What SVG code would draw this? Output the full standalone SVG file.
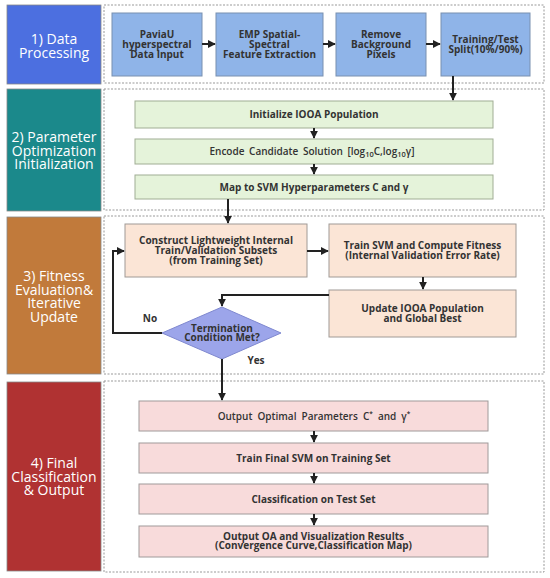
<svg xmlns="http://www.w3.org/2000/svg" width="550" height="578" viewBox="0 0 550 578">
<defs>
<marker id="ah" viewBox="0 0 10 10" refX="9" refY="5" markerWidth="4" markerHeight="4" orient="auto" markerUnits="strokeWidth">
<path d="M0,0 L10,5 L0,10 z" fill="#222"/>
</marker>
<style>
.sec{stroke:#888;stroke-width:0.8}
.lbl{font-family:"Open Sans","Noto Sans","DejaVu Sans",sans-serif;font-size:14px;fill:#fff;text-anchor:middle}
.dash{fill:#fff;stroke:#999;stroke-width:1;stroke-dasharray:2,1.5}
.bt{font-family:"Open Sans","Noto Sans","DejaVu Sans",sans-serif;font-size:10px;font-weight:bold;fill:#333;text-anchor:middle}
.st{font-weight:600}
.blue{fill:#8fb4e8;stroke:#7890b0;stroke-width:1}
.green{fill:#e5f3da;stroke:#a0ad94;stroke-width:1}
.peach{fill:#fbe5d6;stroke:#a09a96;stroke-width:1}
.pink{fill:#f8dbdb;stroke:#a09a9a;stroke-width:1}
.cn{fill:none;stroke:#222;stroke-width:2}
</style>
</defs>
<rect width="550" height="578" fill="#fff"/>

<g id="sections">
<rect class="dash" x="104" y="5" width="440" height="78"/>
<rect class="dash" x="104" y="89" width="440" height="121"/>
<rect class="dash" x="104" y="216" width="440" height="158"/>
<rect class="dash" x="104" y="381" width="440" height="191"/>
</g>

<g id="sec1">
<rect class="sec" x="7" y="5" width="94" height="79" fill="#4c6fe0"/>
<text class="lbl" x="54" y="44">1) Data</text>
<text class="lbl" x="54" y="57.5">Processing</text>
</g>
<g id="sec2">
<rect class="sec" x="7" y="89" width="94" height="122" fill="#1b898b"/>
<text class="lbl" x="54" y="142">2) Parameter</text>
<text class="lbl" x="54" y="155.5">Optimization</text>
<text class="lbl" x="54" y="169">Initialization</text>
</g>
<g id="sec3">
<rect class="sec" x="7" y="217" width="94" height="157" fill="#c17a3b"/>
<text class="lbl" x="54" y="281">3) Fitness</text>
<text class="lbl" x="54" y="294.5">Evaluation&amp;</text>
<text class="lbl" x="54" y="308">Iterative</text>
<text class="lbl" x="54" y="321.5">Update</text>
</g>
<g id="sec4">
<rect class="sec" x="7" y="382" width="94" height="189" fill="#b03232"/>
<text class="lbl" x="54" y="468">4) Final</text>
<text class="lbl" x="54" y="481.5">Classification</text>
<text class="lbl" x="54" y="495">&amp; Output</text>
</g>

<g id="n1">
<rect class="blue" x="112" y="13" width="90" height="63"/>
<text class="bt" x="157" y="37.5">PaviaU</text>
<text class="bt" x="157" y="47.5">hyperspectral</text>
<text class="bt" x="157" y="57.5">Data Input</text>
</g>
<g id="n2">
<rect class="blue" x="216" y="13" width="107" height="63"/>
<text class="bt" x="269.5" y="37.5">EMP Spatial-</text>
<text class="bt" x="269.5" y="47.5">Spectral</text>
<text class="bt" x="269.5" y="57.5">Feature Extraction</text>
</g>
<g id="n3">
<rect class="blue" x="336" y="13" width="90" height="63"/>
<text class="bt" x="381" y="37.5">Remove</text>
<text class="bt" x="381" y="47.5">Background</text>
<text class="bt" x="381" y="57.5">Pixels</text>
</g>
<g id="n4">
<rect class="blue" x="441" y="13" width="89" height="63"/>
<text class="bt" x="485.5" y="43">Training/Test</text>
<text class="bt" x="485.5" y="53">Split(10%/90%)</text>
</g>

<g id="n5">
<rect class="green" x="135" y="101" width="358" height="27"/>
<text class="bt" x="314" y="118">Initialize IOOA Population</text>
</g>
<g id="n6">
<rect class="green" x="135" y="139" width="358" height="25"/>
<text class="bt st" x="312" y="155" word-spacing="2">Encode Candidate Solution   [log<tspan font-size="7.5" dy="2">10</tspan><tspan dy="-2">C,log</tspan><tspan font-size="7.5" dy="2">10</tspan><tspan dy="-2">γ]</tspan></text>
</g>
<g id="n7">
<rect class="green" x="135" y="175" width="358" height="24"/>
<text class="bt" x="314" y="190.5">Map to SVM Hyperparameters C and γ</text>
</g>

<g id="n8">
<rect class="peach" x="125" y="224" width="182" height="53"/>
<text class="bt" x="216" y="243.5">Construct Lightweight Internal</text>
<text class="bt" x="216" y="253.5">Train/Validation Subsets</text>
<text class="bt" x="216" y="263.5">(from Training Set)</text>
</g>
<g id="n9">
<rect class="peach" x="329" y="224" width="187" height="53"/>
<text class="bt" x="422.5" y="249">Train SVM and Compute Fitness</text>
<text class="bt" x="422.5" y="258.5">(Internal Validation Error Rate)</text>
</g>
<g id="n10">
<rect class="peach" x="329" y="290" width="187" height="47"/>
<text class="bt" x="422.5" y="312">Update IOOA Population</text>
<text class="bt" x="422.5" y="321.5">and Global Best</text>
</g>
<g id="n11">
<polygon points="222,307 281,333 222,359 162,333" fill="#9ca5ea" stroke="#7f88cf" stroke-width="1"/>
<text class="bt" x="222" y="331.5">Termination</text>
<text class="bt" x="222" y="341">Condition Met?</text>
</g>

<g id="n12">
<rect class="pink" x="139" y="401" width="349" height="30"/>
<text class="bt st" x="314" y="419.5" word-spacing="2.5">Output Optimal Parameters  C<tspan font-size="6.5" dy="-4">*</tspan><tspan dy="4"> and γ</tspan><tspan font-size="6.5" dy="-4">*</tspan></text>
</g>
<g id="n13">
<rect class="pink" x="139" y="443" width="349" height="30"/>
<text class="bt" x="313.5" y="461.5">Train Final SVM on Training Set</text>
</g>
<g id="n14">
<rect class="pink" x="139" y="484" width="349" height="30"/>
<text class="bt" x="313.5" y="502.5">Classification on Test Set</text>
</g>
<g id="n15">
<rect class="pink" x="139" y="526" width="349" height="31"/>
<text class="bt" x="313.5" y="539.5">Output OA and Visualization Results</text>
<text class="bt" x="313.5" y="549">(Convergence Curve,Classification Map)</text>
</g>

<g id="connectors">
<line class="cn" x1="202" y1="44" x2="215" y2="44" marker-end="url(#ah)"/>
<line class="cn" x1="323" y1="44" x2="335" y2="44" marker-end="url(#ah)"/>
<line class="cn" x1="426" y1="44" x2="440" y2="44" marker-end="url(#ah)"/>
<line class="cn" x1="453" y1="76" x2="453" y2="100" marker-end="url(#ah)"/>
<line class="cn" x1="314" y1="128" x2="314" y2="138" marker-end="url(#ah)"/>
<line class="cn" x1="314" y1="164" x2="314" y2="174" marker-end="url(#ah)"/>
<line class="cn" x1="228" y1="199" x2="228" y2="223" marker-end="url(#ah)"/>
<line class="cn" x1="307" y1="251" x2="328" y2="251" marker-end="url(#ah)"/>
<line class="cn" x1="423" y1="277" x2="423" y2="289" marker-end="url(#ah)"/>
<polyline class="cn" points="329,295 222,295 222,306" marker-end="url(#ah)"/>
<polyline class="cn" points="162,333 113,333 113,251 124,251" marker-end="url(#ah)"/>
<line class="cn" x1="222" y1="359" x2="222" y2="400" marker-end="url(#ah)"/>
<line class="cn" x1="314" y1="431" x2="314" y2="442" marker-end="url(#ah)"/>
<line class="cn" x1="314" y1="473" x2="314" y2="483" marker-end="url(#ah)"/>
<line class="cn" x1="314" y1="514" x2="314" y2="525" marker-end="url(#ah)"/>
<text class="bt" x="150" y="322">No</text>
<text class="bt" x="256" y="364">Yes</text>
</g>
</svg>
